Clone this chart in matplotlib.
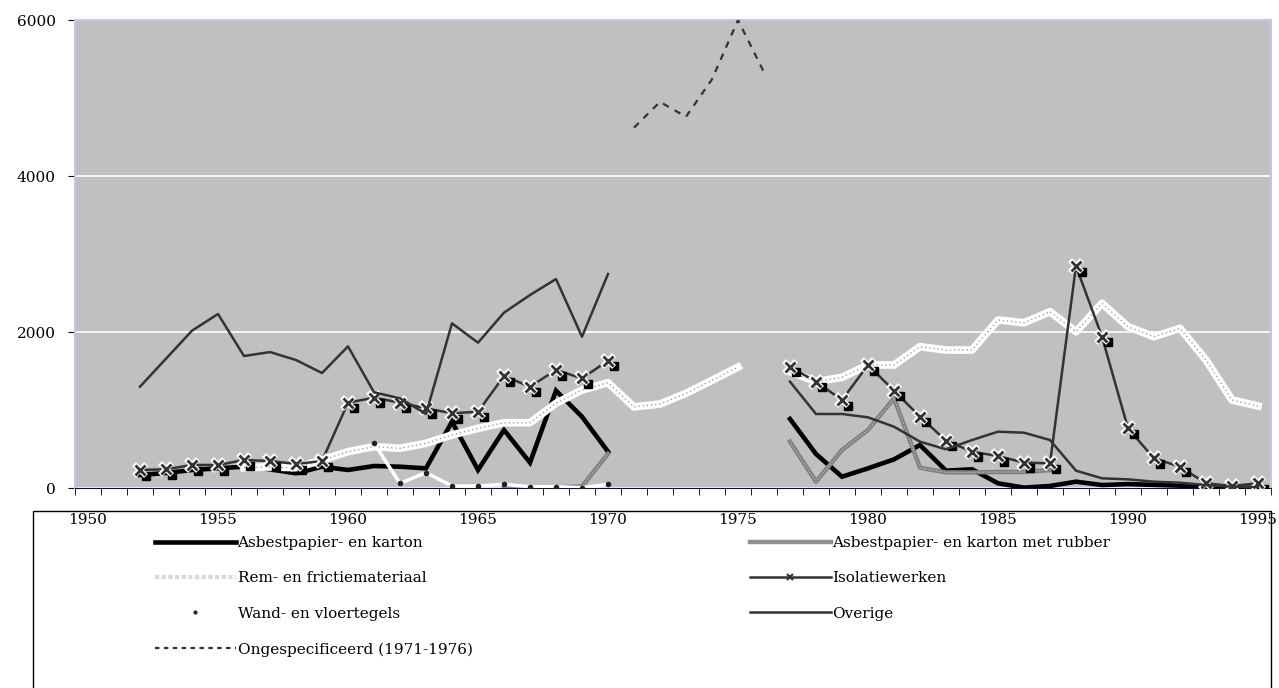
import numpy as np
import matplotlib
matplotlib.use("Agg")
import matplotlib.pyplot as plt
from matplotlib.lines import Line2D
from matplotlib.patches import Rectangle
from matplotlib.transforms import ScaledTranslation

plt.rcParams['font.family'] = ['DejaVu Serif']
plt.rcParams['font.size'] = 11

# data (two periods, gap 1971-1976)
years_a = list(range(1952, 1971))
years_b = list(range(1977, 1996))

karton_a = [167, 192, 231, 252, 273, 240, 188, 273, 231, 282, 273, 252, 850, 231, 744, 325, 1248, 914, 466]
karton_b = [885, 436, 145, 252, 367, 551, 222, 240, 60, 5, 26, 81, 38, 50, 40, 30, 15, 5, 0]

rubber_years_a = [1966, 1967, 1968, 1969, 1970]
rubber_a = [15, 10, 10, 20, 440]
rubber_years_b = list(range(1977, 1988))
rubber_b = [594, 81, 487, 744, 1150, 260, 200, 200, 205, 205, 230]

rem_years_a = list(range(1956, 1976))
rem_a = [260, 270, 260, 359, 466, 530, 509, 573, 680, 765, 837, 837, 1086, 1256, 1350,
         1040, 1077, 1214, 1380, 1550]
rem_b = [1491, 1363, 1419, 1577, 1577, 1812, 1769, 1769, 2154, 2119, 2260, 2004, 2367,
         2068, 1940, 2047, 1641, 1128, 1051]

iso_a = [231, 240, 295, 295, 359, 346, 308, 346, 1094, 1158, 1094, 1022, 958, 978, 1436, 1299, 1513, 1406, 1632]
iso_b = [1555, 1363, 1128, 1577, 1248, 914, 607, 466, 410, 325, 316, 2846, 1940, 765, 380, 273, 60, 26, 60]

wand_years = list(range(1961, 1971))
wand = [573, 60, 197, 26, 26, 47, 17, 17, 4, 47]

overige_a = [1299, 1658, 2017, 2231, 1692, 1743, 1641, 1474, 1816, 1227, 1150, 950, 2111, 1863, 2248, 2474, 2679, 1940, 2743]
overige_b = [1363, 949, 949, 906, 786, 594, 496, 615, 722, 709, 615, 222, 124, 111, 81, 68, 38, 17, 10]

ong_years = list(range(1971, 1977))
ong = [4620, 4950, 4760, 5240, 6000, 5330]

labels = ["Asbestpapier- en karton", "Asbestpapier- en karton met rubber",
          "Rem- en frictiemateriaal", "Isolatiewerken", "Wand- en vloertegels",
          "Overige", "Ongespecificeerd (1971-1976)"]

fig = plt.figure(figsize=(12.79, 6.88), dpi=100)
ax = fig.add_axes([75/1279, 1-488/688, 1196/1279, 468/688])
ax.set_facecolor('#c0c0c0')

dark = '#333333'

# Asbestpapier- en karton
for xs, ys in [(years_a, karton_a), (years_b, karton_b)]:
    ax.plot(xs, ys, color='black', lw=3.3, solid_joinstyle='miter', zorder=3)

# met rubber
for xs, ys in [(rubber_years_a, rubber_a), (rubber_years_b, rubber_b)]:
    ax.plot(xs, ys, color='#808080', lw=3.2, zorder=3.1)
    ax.plot(xs, ys, color='#c8c8c8', lw=0.8, ls=(0, (1, 1.5)), zorder=3.2)

# Rem- en frictie
for xs, ys in [(rem_years_a, rem_a), (years_b, rem_b)]:
    ax.plot(xs, ys, color='white', lw=5.5, zorder=3.3)
    ax.plot(xs, ys, color='#a0a0a0', lw=1.0, ls=(0, (1, 2)), zorder=3.4)

# Isolatiewerken
shift = ax.transData + ScaledTranslation(4/72, -4/72, fig.dpi_scale_trans)
for xs, ys in [(years_a, iso_a), (years_b, iso_b)]:
    ax.plot(xs, ys, color=dark, lw=1.8, zorder=3.5)
    ax.plot(xs, ys, ls='none', marker='s', ms=6, color='black', transform=shift, zorder=3.55)
    ax.plot(xs, ys, ls='none', marker='x', ms=8, mew=4, color='white', zorder=3.6)
    ax.plot(xs, ys, ls='none', marker='x', ms=7, mew=2, color=dark, zorder=3.7)

# Wand- en vloertegels
ax.plot(wand_years, wand, color='white', lw=2.5, marker='o', ms=3, mfc='#222222', mec='#222222', zorder=3.8)

# Overige
for xs, ys in [(years_a, overige_a), (years_b, overige_b)]:
    ax.plot(xs, ys, color=dark, lw=1.8, zorder=3.9)

# Ongespecificeerd
ax.plot(ong_years, ong, color=dark, lw=1.6, ls=(0, (3, 3)), zorder=4)

ax.set_xlim(1949.5, 1995.5)
ax.set_ylim(0, 6000)
ax.set_yticks([0, 2000, 4000, 6000])
ax.yaxis.grid(True, color='white', lw=1.2)
ax.set_axisbelow(True)
ax.set_xticks(list(range(1950, 1996, 5)))
ax.set_xticks(np.arange(1949.5, 1996, 1), minor=True)
ax.tick_params(axis='x', which='major', length=0, pad=18)
ax.tick_params(axis='x', which='minor', length=5, direction='out')
ax.tick_params(axis='y', length=5, pad=9)
for s in ['left', 'top', 'right']:
    ax.spines[s].set_color('#c4c4f0')
    ax.spines[s].set_linewidth(1.5)
ax.spines['bottom'].set_color('#101030')

# legend
h_karton = Line2D([], [], color='black', lw=3.3)
h_rubber = Line2D([], [], color='#909090', lw=3.2)
h_rem = Line2D([], [], color='#d8d8d8', lw=3.0, ls=(0, (1, 0.6)))
h_iso = Line2D([], [], color=dark, lw=1.8, marker='x', ms=5, mew=1.5)
h_wand = Line2D([], [], color='white', lw=2, marker='o', ms=2, mfc='#222222', mec='#222222')
h_over = Line2D([], [], color=dark, lw=1.8)
h_ong = Line2D([], [], color=dark, lw=1.6, ls=(0, (2, 2)))

kw = dict(loc='upper left', frameon=False, handlelength=5.3, handletextpad=0.1,
          labelspacing=1.4, borderpad=0, borderaxespad=0)
fig.legend([h_karton, h_rem, h_wand, h_ong], [labels[0], labels[2], labels[4], labels[6]],
           bbox_to_anchor=(155/1279, 1-536/688), **kw)
fig.legend([h_rubber, h_iso, h_over], [labels[1], labels[3], labels[5]],
           bbox_to_anchor=(750/1279, 1-536/688), **kw)
fig.patches.append(Rectangle((33/1279, -0.05), 1238/1279, 0.05+(688-511)/688,
                             transform=fig.transFigure, fill=False, edgecolor='black', lw=1))

fig.savefig('out.png', dpi=100)
